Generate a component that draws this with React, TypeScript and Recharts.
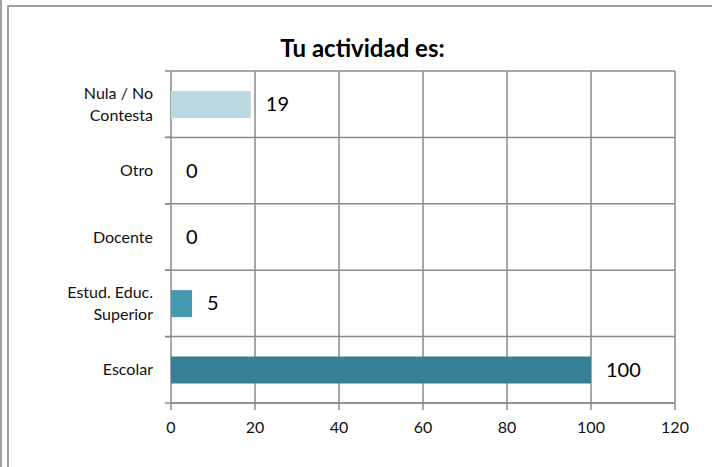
import React from 'react';
import { ComposedChart, Bar, Scatter, XAxis, YAxis, CartesianGrid, Cell } from 'recharts';

const categories = ['Nula / No\nContesta', 'Otro', 'Docente', 'Estud. Educ.\nSuperior', 'Escolar'];
const values = [19, 0, 0, 5, 100];
const colors = ['#BAD7E2', '#4A9DB6', '#4A9DB6', '#4299B0', '#367F94'];
const xTicks = [0, 20, 40, 60, 80, 100, 120];
const title = 'Tu actividad es:';

const data = categories.map((name, i) => ({ name, value: values[i] }));

const FONT = 'Lato, "Open Sans", sans-serif';
const GRID = '#8a8a8a';
const CHART_W = 712;
const CHART_H = 467;
const MARGIN = { top: 71, right: 37, bottom: 0, left: 0 };
const X_AXIS_H = 64;
const Y_AXIS_W = 171;
const TICK_SIZE = 6;
const TICK_MARGIN = 12;
const PLOT_H = CHART_H - MARGIN.top - MARGIN.bottom - X_AXIS_H;

const CatTick = (props: any) => {
  const { x, y, payload } = props;
  const lines = String(payload.value).split('\n');
  const lh = 22;
  const startY = y - ((lines.length - 1) * lh) / 2;
  const half = payload && payload.offset > 0 ? payload.offset : PLOT_H / categories.length / 2;
  const edge = x + TICK_SIZE + TICK_MARGIN;
  return (
    <g>
      <line x1={edge - TICK_SIZE} x2={edge} y1={y - half} y2={y - half} stroke={GRID} strokeWidth={1.5} />
      <line x1={edge - TICK_SIZE} x2={edge} y1={y + half} y2={y + half} stroke={GRID} strokeWidth={1.5} />
      <text x={x} y={startY} textAnchor="end" fontFamily={FONT} fontSize={16} fill="#111">
        {lines.map((l, i) => (
          <tspan key={i} x={x} y={startY + i * lh} dy="0.35em">{l}</tspan>
        ))}
      </text>
    </g>
  );
};

const ValueLabel = (props: any) => {
  const { cx, cy, payload } = props;
  return (
    <text x={Number(cx) + 15} y={Number(cy)} dy="0.35em" textAnchor="start" fontFamily={FONT} fontSize={20} fill="#000">
      {payload.value}
    </text>
  );
};

const hLines = ({ offset }: any) =>
  Array.from({ length: categories.length + 1 }, (_, i) => offset.top + (i * offset.height) / categories.length);

export default function App() {
  return (
    <div style={{ position: 'absolute', left: 0, top: 0, width: 712, height: 467, background: '#fff', overflow: 'hidden' }}>
      <div style={{ position: 'absolute', left: 0, top: 0, width: 2, height: 467, background: '#a0a0a0' }} />
      <div style={{ position: 'absolute', left: 7, top: 5, width: 2, height: 462, background: '#a0a0a0' }} />
      <div style={{ position: 'absolute', left: 7, top: 5, width: 705, height: 2, background: '#a0a0a0' }} />
      <div style={{ position: 'absolute', left: 0, top: 33.5, width: 725, textAlign: 'center', fontFamily: FONT, fontWeight: 700, fontSize: 24, lineHeight: 1.2, color: '#000' }}>
        {title}
      </div>
      <div style={{ position: 'absolute', left: 0, top: 0 }}>
        <ComposedChart
          width={CHART_W}
          height={CHART_H}
          layout="vertical"
          data={data}
          margin={MARGIN}
          barCategoryGap="30%"
        >
          <CartesianGrid stroke={GRID} strokeWidth={1.5} horizontalCoordinatesGenerator={hLines} />
          <XAxis
            type="number"
            domain={[0, 120]}
            ticks={xTicks}
            height={X_AXIS_H}
            tickSize={7}
            tickMargin={12}
            stroke={GRID}
            tickLine={{ stroke: GRID, strokeWidth: 1.5 }}
            axisLine={{ stroke: GRID, strokeWidth: 1.5 }}
            tick={{ fontFamily: FONT, fontSize: 16, fill: '#111' }}
            interval={0}
          />
          <YAxis
            type="category"
            dataKey="name"
            width={Y_AXIS_W}
            tickSize={TICK_SIZE}
            tickLine={false}
            axisLine={false}
            tickMargin={TICK_MARGIN}
            tick={<CatTick />}
            interval={0}
          />
          <Bar dataKey="value" isAnimationActive={false}>
            {data.map((d, i) => (
              <Cell key={i} fill={colors[i]} />
            ))}
          </Bar>
          <Scatter dataKey="value" isAnimationActive={false} shape={<ValueLabel />} />
        </ComposedChart>
      </div>
    </div>
  );
}
